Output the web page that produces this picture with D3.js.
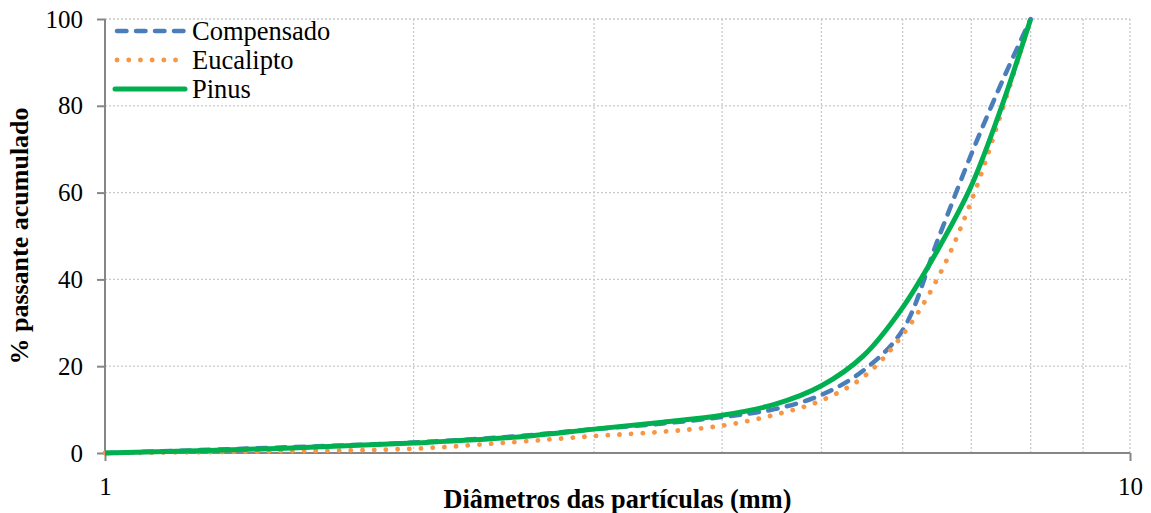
<!DOCTYPE html>
<html>
<head>
<meta charset="utf-8">
<script src="https://cdn.jsdelivr.net/npm/d3@7"></script>
<style>
  body { margin: 0; background: #fff; }
  text { font-family: "Liberation Serif", "Times New Roman", serif; fill: #000; }
</style>
</head>
<body>
<div id="root"></div>
<script>
// diameters (mm)
const diam = [1, 1.5, 2, 2.5, 3, 3.5, 4, 4.5, 5, 5.5, 6, 6.5, 7, 7.5, 8];
const compensado = [0, 1.3, 2.4, 3.8, 5.5, 6.8, 8.3, 10.1, 13.4, 19.1, 28.3, 49.4, 68.8, 85.5, 100];
const eucalipto = [0, 0.4, 1.0, 2.5, 3.9, 4.9, 6.3, 8.8, 12.1, 17.6, 27.2, 40.5, 58, 78.8, 100];
const pinus = [0, 1.1, 2.3, 3.6, 5.5, 7.1, 8.7, 11.2, 15.5, 22.5, 33.5, 47, 61.5, 80, 100];
const yTicks = [0, 20, 40, 60, 80, 100];
const xGrid = [2, 3, 4, 5, 6, 7, 8, 9, 10];

const series = [
  {name: "Compensado", values: compensado, color: "#4a7ebb", dash: "9.5 9.5", width: 4.5},
  {name: "Eucalipto", values: eucalipto, color: "#f79646", dash: "0.1 11.6", width: 4.8},
  {name: "Pinus", values: pinus, color: "#00b050", dash: null, width: 5}
];

const FONT = '"Liberation Serif", "Times New Roman", serif';
const W = 1151, H = 513;
const margin = {top: 19, right: 21, bottom: 60, left: 105};
const width = W - margin.left - margin.right,
      height = H - margin.top - margin.bottom;

const svg = d3.select("#root").append("svg")
    .attr("width", W)
    .attr("height", H);

const g = svg.append("g")
    .attr("transform", "translate(" + margin.left + "," + margin.top + ")");

const x = d3.scaleLog().domain([1, 10]).range([0, width]);
const y = d3.scaleLinear().domain([0, 100]).range([height, 0]);

// gridlines
g.selectAll(".hgrid")
  .data(yTicks.filter(d => d > 0))
  .enter().append("line")
    .attr("x1", 0).attr("x2", width)
    .attr("y1", d => y(d)).attr("y2", d => y(d))
    .attr("stroke", "#c9c9c9").attr("stroke-width", 1.3)
    .attr("stroke-dasharray", "2 2");

g.selectAll(".vgrid")
  .data(xGrid)
  .enter().append("line")
    .attr("x1", d => x(d)).attr("x2", d => x(d))
    .attr("y1", 0).attr("y2", height)
    .attr("stroke", "#c9c9c9").attr("stroke-width", 1.3)
    .attr("stroke-dasharray", "2 2");

// axes
const yAxis = d3.axisLeft(y).tickValues(yTicks).tickSize(8).tickPadding(14);
const xAxis = d3.axisBottom(x).tickValues([1, 10]).tickFormat(d3.format("d")).tickSize(8).tickPadding(16);

const ya = g.append("g").call(yAxis);
const xa = g.append("g").attr("transform", "translate(0," + height + ")").call(xAxis);

[ya, xa].forEach(a => {
  a.attr("font-family", null);
  a.select(".domain").attr("stroke", "#868686").attr("stroke-width", 2);
  a.selectAll(".tick line").attr("stroke", "#868686").attr("stroke-width", 2);
  a.selectAll(".tick text")
    .style("font-family", FONT)
    .style("font-size", "25px")
    .attr("fill", "#000");
});
ya.select(".domain").attr("d", "M0," + height + "V0");
xa.select(".domain").attr("d", "M0,0H" + width);

// series lines
const line = d3.line()
    .x((d, i) => x(diam[i]))
    .y(d => y(d))
    .curve(d3.curveCatmullRom.alpha(0.5));

series.forEach(s => {
  g.append("path")
    .datum(s.values)
    .attr("fill", "none")
    .attr("stroke", s.color)
    .attr("stroke-width", s.width)
    .attr("stroke-linecap", s.dash ? "round" : "butt")
    .attr("stroke-dasharray", s.dash)
    .attr("d", line);
});

// legend
const legend = svg.selectAll(".legend")
    .data(series)
  .enter().append("g")
    .attr("class", "legend")
    .attr("transform", (d, i) => "translate(115," + (31 + i * 29) + ")");

legend.append("line")
    .attr("x1", d => d.dash ? 2 : 0).attr("x2", 70)
    .attr("y1", 0).attr("y2", 0)
    .attr("stroke", d => d.color)
    .attr("stroke-width", d => d.width)
    .attr("stroke-linecap", "round")
    .attr("stroke-dasharray", d => d.dash);

legend.append("text")
    .attr("x", 77)
    .attr("y", 0)
    .attr("dy", "0.34em")
    .style("font-family", FONT)
    .style("font-size", "26.5px")
    .text(d => d.name);

// axis titles
svg.append("text")
    .attr("x", margin.left + width / 2)
    .attr("y", 508)
    .attr("text-anchor", "middle")
    .style("font-family", FONT)
    .style("font-size", "26.3px")
    .style("font-weight", "bold")
    .text("Diâmetros das partículas (mm)");

svg.append("text")
    .attr("transform", "translate(28," + (margin.top + height / 2) + ") rotate(-90)")
    .attr("text-anchor", "middle")
    .style("font-family", FONT)
    .style("font-size", "26px")
    .style("font-weight", "bold")
    .text("% passante acumulado");
</script>
</body>
</html>
